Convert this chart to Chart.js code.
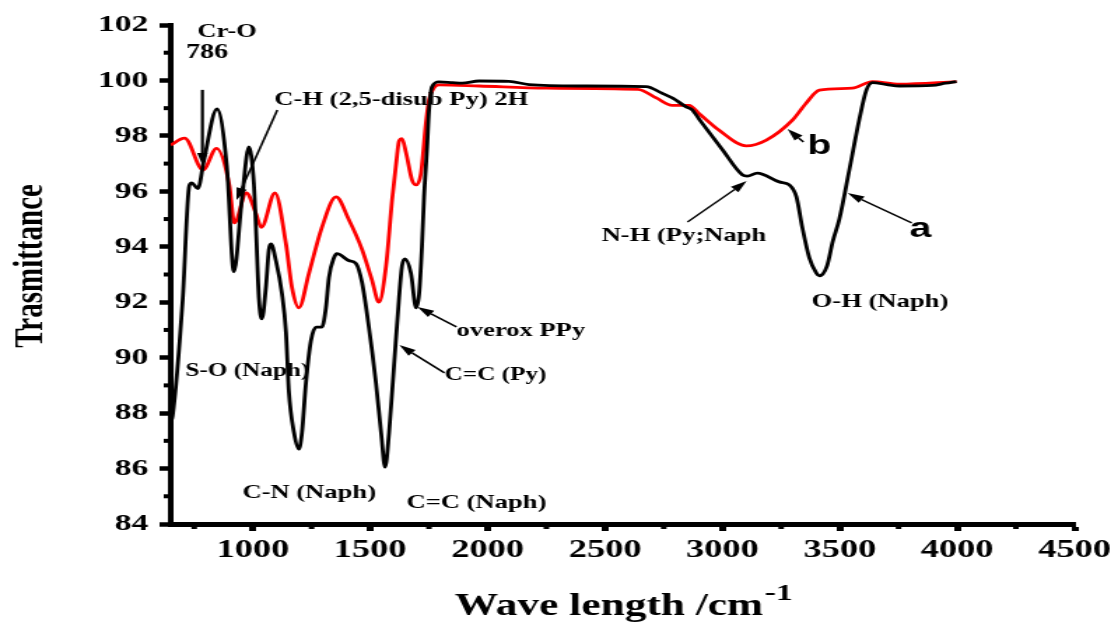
<!DOCTYPE html>
<html>
<head>
<meta charset="utf-8">
<title>FTIR</title>
<script src="https://cdn.jsdelivr.net/npm/chart.js@4.4.1/dist/chart.umd.min.js"></script>
<style>
  html, body { margin: 0; padding: 0; background: #fff; }
</style>
</head>
<body>
<!-- drawing buffer is narrower than the box, so the whole figure is widened -->
<canvas id="ftir" width="794" height="623" style="display:block;width:1111px;height:623px"></canvas>
<script>
// spectrum a (black)
const waveA = [650, 658, 701, 729, 740, 766, 791, 847, 889, 919, 953, 983, 1004, 1013, 1026, 1038,
  1055, 1068, 1077, 1098, 1124, 1141, 1153, 1175, 1196, 1209, 1226, 1247, 1269, 1294, 1311, 1324,
  1345, 1358, 1409, 1439, 1465, 1494, 1524, 1546, 1563, 1580, 1601, 1622, 1635, 1648, 1673, 1695,
  1708, 1720, 1729, 1742, 1750, 1763, 1793, 1850, 1891, 1963, 2091, 2176, 2390, 2675, 2740, 2790,
  2845, 2870, 2901, 3000, 3084, 3106, 3148, 3242, 3285, 3315, 3340, 3370, 3400, 3413, 3445, 3470,
  3498, 3541, 3583, 3613, 3639, 3700, 3754, 3894, 3950, 3997];
const transA = [87.7, 87.9, 92.1, 96.2, 96.3, 96.1, 97.1, 98.97, 96.9, 93.1, 95.7, 97.6, 96.3, 94.7, 92.1, 91.4,
  92.5, 93.9, 94.1, 93.5, 92.3, 90.9, 88.8, 87.3, 86.7, 87.3, 89.1, 90.6, 91.1, 91.1, 91.8, 92.9,
  93.6, 93.75, 93.5, 93.4, 92.7, 91.1, 89.1, 87.3, 86.05, 87.3, 89.7, 92.1, 93.3, 93.56, 93.05, 91.8,
  92.3, 94.0, 95.8, 97.6, 98.9, 99.77, 99.95, 99.92, 99.9, 99.98, 99.97, 99.85, 99.8, 99.78, 99.55, 99.35,
  99.05, 98.95, 98.6, 97.5, 96.6, 96.55, 96.66, 96.34, 96.23, 95.8, 94.7, 93.6, 93.05, 92.95, 93.3, 94.2,
  95.0, 96.8, 98.6, 99.65, 99.92, 99.85, 99.8, 99.82, 99.9, 99.96];

// spectrum b (red)
const waveB = [650, 709, 788, 845, 900, 921, 972, 1013, 1036, 1094, 1141, 1166, 1196, 1239, 1294, 1354,
  1409, 1465, 1507, 1537, 1567, 1593, 1614, 1622, 1635, 1652, 1678, 1695, 1716, 1737, 1750, 1771,
  1793, 1963, 2249, 2640, 2718, 2786, 2858, 2901, 2986, 3101, 3187, 3298, 3357, 3413, 3553, 3639,
  3754, 3997];
const transB = [97.67, 97.92, 96.77, 97.55, 96.2, 94.86, 95.94, 95.2, 94.7, 95.94, 94.1, 92.55, 91.8, 93.05, 94.7, 95.8,
  94.97, 93.9, 92.8, 92.0, 93.3, 95.7, 97.3, 97.8, 97.9, 97.4, 96.4, 96.23, 96.66, 98.46, 99.3, 99.73,
  99.84, 99.8, 99.72, 99.68, 99.37, 99.1, 99.1, 98.8, 98.2, 97.64, 97.85, 98.57, 99.19, 99.65, 99.72, 99.96,
  99.87, 99.96];

// axis ticks
const xTicks = [1000, 1500, 2000, 2500, 3000, 3500, 4000, 4500];
const xMinor = [750, 1250, 1750, 2250, 2750, 3250, 3750, 4250];
const yTicks = [84, 86, 88, 90, 92, 94, 96, 98, 100, 102];
const yMinor = [85, 87, 89, 91, 93, 95, 97, 99, 101];

// band labels: [text, wave, T, font size]
const bandLabels = [
  ['Cr-O', 763, 101.75, 19],
  ['786', 716, 100.99, 20],
  ['C-H (2,5-disub Py) 2H', 1091, 99.29, 19],
  ['S-O (Naph)', 712, 89.52, 18],
  ['C-N (Naph)', 955, 85.12, 19],
  ['C=C (Naph)', 1654, 84.76, 19],
  ['overox PPy', 1867, 90.96, 19],
  ['C=C (Py)', 1816, 89.37, 18],
  ['N-H (Py;Naph', 2485, 94.39, 19],
  ['O-H (Naph)', 3380, 92.01, 19]
];
// curve names
const curveLabels = [
  ['b', 3362, 97.63],
  ['a', 3797, 94.64]
];
// arrows: [fromWave, fromT, toWave, toT, shaft width]
const arrows = [
  [785, 99.66, 785, 96.95, 2.2],
  [1104, 98.93, 930, 95.69, 1.6],
  [1867, 91.11, 1701, 91.83, 1.6],
  [1816, 89.45, 1624, 90.46, 1.6],
  [2851, 94.89, 3103, 96.37, 1.4],
  [3345, 97.78, 3277, 98.25, 1.6],
  [3806, 94.86, 3533, 95.94, 1.4]
];

const SERIF = '"Liberation Serif", "Times New Roman", serif';

function toPoints(xs, ys) {
  return xs.map((x, i) => ({ x: x, y: ys[i] }));
}

const decorPlugin = {
  id: 'decor',
  afterDraw(chart) {
    const ctx = chart.ctx;
    const xs = chart.scales.x;
    const ys = chart.scales.y;
    const area = chart.chartArea;

    ctx.save();
    // minor ticks
    ctx.strokeStyle = '#000';
    ctx.lineWidth = 4;
    yMinor.forEach(v => {
      const py = ys.getPixelForValue(v);
      ctx.beginPath();
      ctx.moveTo(area.left, py);
      ctx.lineTo(area.left - 5, py);
      ctx.stroke();
    });
    xMinor.forEach(v => {
      const px = xs.getPixelForValue(v);
      ctx.beginPath();
      ctx.moveTo(px, area.bottom);
      ctx.lineTo(px, area.bottom + 5);
      ctx.stroke();
    });

    // arrows
    ctx.fillStyle = '#000';
    arrows.forEach(a => {
      const x1 = xs.getPixelForValue(a[0]), y1 = ys.getPixelForValue(a[1]);
      const x2 = xs.getPixelForValue(a[2]), y2 = ys.getPixelForValue(a[3]);
      const ang = Math.atan2(y2 - y1, x2 - x1);
      const len = 12, half = 3.8;
      const bx = x2 - len * Math.cos(ang), by = y2 - len * Math.sin(ang);
      ctx.lineWidth = a[4];
      ctx.beginPath();
      ctx.moveTo(x1, y1);
      ctx.lineTo(bx, by);
      ctx.stroke();
      ctx.beginPath();
      ctx.moveTo(x2, y2);
      ctx.lineTo(bx + half * Math.sin(ang), by - half * Math.cos(ang));
      ctx.lineTo(bx - half * Math.sin(ang), by + half * Math.cos(ang));
      ctx.closePath();
      ctx.fill();
    });

    // band labels
    ctx.textAlign = 'left';
    ctx.textBaseline = 'middle';
    bandLabels.forEach(l => {
      ctx.font = 'bold ' + l[3] + 'px ' + SERIF;
      ctx.fillText(l[0], xs.getPixelForValue(l[1]), ys.getPixelForValue(l[2]));
    });
    ctx.font = 'bold 28px "Liberation Sans", Arial, sans-serif';
    curveLabels.forEach(l => {
      ctx.fillText(l[0], xs.getPixelForValue(l[1]), ys.getPixelForValue(l[2]));
    });

    // axis titles
    ctx.textBaseline = 'alphabetic';
    ctx.font = 'bold 31px ' + SERIF;
    const title = 'Wave length /cm';
    const tx = 325;
    ctx.fillText(title, tx, 615);
    const tw = ctx.measureText(title).width;
    ctx.font = 'bold 24px ' + SERIF;
    ctx.fillText('-1', tx + tw + 1, 600);

    ctx.translate(29.5, 266);
    ctx.rotate(-Math.PI / 2);
    ctx.textAlign = 'center';
    ctx.font = 'bold 29px ' + SERIF;
    ctx.fillText('Trasmittance', 0, 0);
    ctx.restore();
  }
};

const tickFont = size => ({ family: SERIF, size: size, weight: 'bold' });

new Chart(document.getElementById('ftir').getContext('2d'), {
  type: 'line',
  data: {
    datasets: [
      { label: 'a', data: toPoints(waveA, transA), borderColor: '#000000', borderWidth: 2.8 },
      { label: 'b', data: toPoints(waveB, transB), borderColor: '#ff0000', borderWidth: 2.8 }
    ]
  },
  options: {
    responsive: false,
    devicePixelRatio: 1,
    animation: false,
    layout: { padding: { top: 25, right: 26, bottom: 0, left: 0 } },
    plugins: { legend: { display: false }, tooltip: { enabled: false } },
    elements: {
      point: { radius: 0 },
      line: { cubicInterpolationMode: 'monotone', fill: false }
    },
    scales: {
      x: {
        type: 'linear',
        min: 650,
        max: 4500,
        afterBuildTicks: s => { s.ticks = xTicks.map(v => ({ value: v })); },
        afterFit: s => { s.height = 99; s.paddingLeft = 0; s.paddingRight = 0; },
        ticks: { font: tickFont(26), color: '#000', padding: 4, maxRotation: 0, autoSkip: false,
          callback: v => String(v) },
        grid: { drawOnChartArea: false, tickLength: 7, tickWidth: 5, tickColor: '#000' },
        border: { color: '#000', width: 5 }
      },
      y: {
        min: 84,
        max: 102,
        afterBuildTicks: s => { s.ticks = yTicks.map(v => ({ value: v })); },
        afterFit: s => { s.width = 122; s.paddingTop = 0; s.paddingBottom = 0; },
        ticks: { font: tickFont(24), color: '#000', padding: 8, callback: v => String(v) },
        grid: { drawOnChartArea: false, tickLength: 8, tickWidth: 4.5, tickColor: '#000' },
        border: { color: '#000', width: 4 }
      }
    }
  },
  plugins: [decorPlugin]
});
</script>
</body>
</html>
